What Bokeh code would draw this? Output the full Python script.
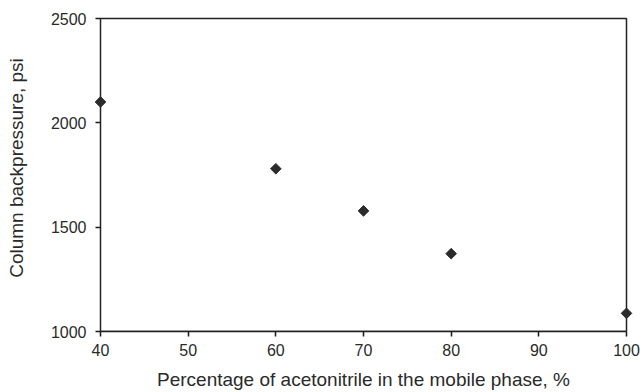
import math
from bokeh.plotting import figure
from bokeh.models import Range1d, FixedTicker, BoxAnnotation
from bokeh.embed import file_html
from bokeh.resources import INLINE

acetonitrile_pct = [40, 60, 70, 80, 100]
backpressure_psi = [2100, 1780, 1578, 1373, 1087]
x_ticks = [40, 50, 60, 70, 80, 90, 100]
y_ticks = [1000, 1500, 2000, 2500]
x_lo, x_hi = 40, 100
y_lo, y_hi = 1000, 2500

# small padding so markers at the axis limits are not clipped by the frame
PAD_PX = 8
x_pad = PAD_PX * (x_hi - x_lo) / 526.0
y_pad_top = 14 * (y_hi - y_lo) / 313.0

p = figure(width=640, height=392, output_backend="svg", toolbar_location=None,
           x_range=Range1d(x_lo - x_pad, x_hi + x_pad),
           y_range=Range1d(y_lo, y_hi + y_pad_top),
           min_border_left=92, min_border_right=6, min_border_top=4, min_border_bottom=61)

frame = BoxAnnotation(left=x_lo, right=x_hi, bottom=y_lo, top=y_hi,
                      fill_alpha=0, fill_color=None, line_color="#222222",
                      line_alpha=1.0, line_width=1.5)
p.add_layout(frame)

r = p.scatter(acetonitrile_pct, backpressure_psi, marker="square", size=7.5, angle=math.pi / 4,
              fill_color="#2b2b2b", line_color="#2b2b2b")
r.level = "overlay"

FONT = "Liberation Sans"
TXT = "#2a2a2a"
for ax in (p.xaxis[0], p.yaxis[0]):
    ax.axis_line_color = "#1a1a1a"
    ax.axis_line_width = 1.5
    ax.major_tick_line_color = "#1a1a1a"
    ax.major_tick_line_width = 1.5
    ax.minor_tick_line_color = None
    ax.major_label_text_font = FONT
    ax.major_label_text_font_size = "16px"
    ax.major_label_text_color = TXT
    ax.axis_label_text_font = FONT
    ax.axis_label_text_font_size = "19px"
    ax.axis_label_text_font_style = "normal"
    ax.axis_label_text_color = TXT

# x axis sits on the frame bottom
p.xaxis.bounds = (x_lo, x_hi)
p.xaxis.major_tick_in = 0
p.xaxis.major_tick_out = 5
p.xaxis.major_label_standoff = 7
p.xaxis.axis_label_standoff = 10

# y axis: the frame edge is PAD_PX left of x=40; ticks shifted onto the x=40 line
p.yaxis.bounds = (y_lo, y_hi)
p.yaxis.axis_line_color = None
p.yaxis.major_tick_in = PAD_PX
p.yaxis.major_tick_out = 5 - PAD_PX
p.yaxis.major_label_standoff = 6
p.yaxis.axis_label_standoff = 21

p.xaxis.ticker = FixedTicker(ticks=x_ticks)
p.yaxis.ticker = FixedTicker(ticks=y_ticks)
p.xaxis.axis_label = "Percentage of acetonitrile in the mobile phase, %"
p.yaxis.axis_label = "Column backpressure, psi"

p.xgrid.grid_line_color = None
p.ygrid.grid_line_color = None
p.outline_line_color = None
p.background_fill_color = "white"
p.border_fill_color = "white"

open("out.html", "w").write(file_html(p, INLINE))
